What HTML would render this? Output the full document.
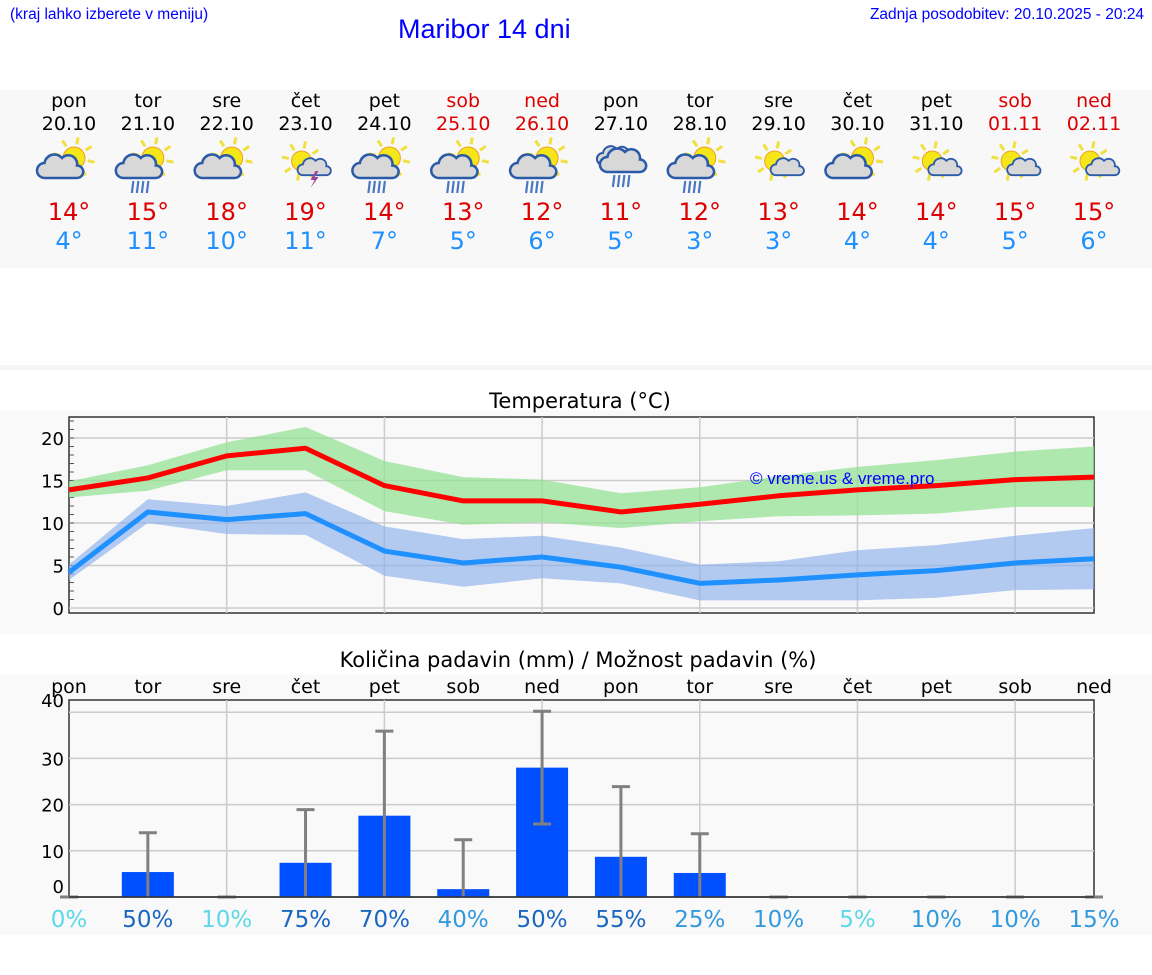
<!DOCTYPE html>
<html><head><meta charset="utf-8"><style>
body{margin:0;width:1152px;height:975px;background:#fff;font-family:"DejaVu Sans","Liberation Sans",sans-serif;overflow:hidden;position:relative}
.abs{position:absolute}
</style></head><body>
<div class="abs" style="left:10px;top:6px;font-size:15.5px;color:#00f;font-family:'Liberation Sans',sans-serif">(kraj lahko izberete v meniju)</div>
<div class="abs" style="left:398px;top:14px;font-size:27px;color:#00f;font-family:'Liberation Sans',sans-serif">Maribor 14 dni</div>
<div class="abs" style="right:8px;top:6px;font-size:15.5px;color:#00f;font-family:'Liberation Sans',sans-serif">Zadnja posodobitev: 20.10.2025 - 20:24</div>
<div class="abs" style="left:0;top:90px;width:1152px;height:178px;background:#f8f8f8"></div>
<div class="abs" style="left:0;top:365px;width:1152px;height:5px;background:#f6f6f6"></div>
<div class="abs" style="left:0;top:410px;width:1152px;height:224px;background:#f9f9f9"></div>
<div class="abs" style="left:0;top:675px;width:1152px;height:260px;background:#f9f9f9"></div>
<svg class="abs" style="left:0;top:0" width="1152" height="975" id="svg" font-family="DejaVu Sans, Liberation Sans, sans-serif"></svg>
<script>
const days=["pon","tor","sre","čet","pet","sob","ned","pon","tor","sre","čet","pet","sob","ned"];
const dates=["20.10","21.10","22.10","23.10","24.10","25.10","26.10","27.10","28.10","29.10","30.10","31.10","01.11","02.11"];
const icons=["sc","scr","sc","st","scr","scr","scr","cr","scr","sc2","sc","sc2","sc2","sc2"];
const tmax=[14,15,18,19,14,13,12,11,12,13,14,14,15,15];
const tmin=[4,11,10,11,7,5,6,5,3,3,4,4,5,6];
const maxLine=[13.9,15.3,17.9,18.8,14.4,12.6,12.6,11.3,12.2,13.2,13.9,14.4,15.1,15.4];
const maxHi=[14.9,16.8,19.5,21.3,17.3,15.4,15.1,13.5,14.2,15.5,16.6,17.4,18.4,19];
const maxLo=[13,13.8,16.2,16.2,11.4,9.8,10.1,9.4,10.2,10.8,10.9,11.1,11.9,11.9];
const minLine=[4.2,11.3,10.4,11.1,6.7,5.3,6,4.8,2.9,3.3,3.9,4.4,5.3,5.8];
const minHi=[5.1,12.8,12,13.6,9.6,8.1,8.5,7.1,5.1,5.5,6.8,7.4,8.5,9.4];
const minLo=[3.3,10,8.7,8.6,3.8,2.5,3.5,2.9,0.9,0.9,0.9,1.2,2.1,2.2];
const tempTicks=[0,5,10,15,20];
const precip=[0,5.4,0,7.4,17.6,1.7,28,8.7,5.2,0,0,0,0,0];
const errHi=[0,13.9,0,18.9,35.9,12.4,40.2,23.9,13.7,0,0,0,0,0];
const errLo=[0,0,0,0,0,0,15.8,0,0,0,0,0,0,0];
const prob=[0,50,10,75,70,40,50,55,25,10,5,10,10,15];
const probCol=["#5dd8e8","#1a66c0","#5dd8e8","#1a66c0","#1a66c0","#3399dd","#1a66c0","#1a66c0","#3399dd","#3399dd","#5dd8e8","#3399dd","#3399dd","#3399dd"];
const precipTicks=[10,20,30,40];

const S=document.getElementById('svg');const NS="http://www.w3.org/2000/svg";
function el(t,a,p){const e=document.createElementNS(NS,t);for(const k in a)e.setAttribute(k,a[k]);(p||S).appendChild(e);return e;}
const X0=69,X1=1094,xs=i=>X0+i*(X1-X0)/13;
const weekend=i=>(i==5||i==6||i==12||i==13);
days.forEach((d,i)=>{
 const c=weekend(i)?"#d00":"#000";
 let t=el('text',{x:xs(i),y:107,'text-anchor':'middle','font-size':19,fill:c});t.textContent=d;
 
 t=el('text',{x:xs(i),y:130,'text-anchor':'middle','font-size':19,fill:c});t.textContent=dates[i];
 
 t=el('text',{x:xs(i),y:220,'text-anchor':'middle','font-size':24,fill:"#d00"});t.textContent=tmax[i]+"°";
 
 t=el('text',{x:xs(i),y:249,'text-anchor':'middle','font-size':24,fill:"#1e90ff"});t.textContent=tmin[i]+"°";
 
 const g=el('g',{transform:`translate(${xs(i)},165)`});
 
 const k=icons[i];
 const sun=(cx,cy,r)=>{for(let a=0;a<8;a++){const an=a*Math.PI/4+0.2;el('line',{x1:cx+Math.cos(an)*(r+3),y1:cy+Math.sin(an)*(r+3),x2:cx+Math.cos(an)*(r+10),y2:cy+Math.sin(an)*(r+10),stroke:'#f0e040','stroke-width':3},g);}el('circle',{cx,cy,r,fill:'#f5e61a',stroke:'#f0a020','stroke-width':1},g);};
 const cloud=(cx,cy,s)=>{const gg=el('g',{transform:`translate(${cx},${cy}) scale(${s})`},g);el('path',{d:'M-14,8 a6,6 0 0 1 0,-12 a8,8 0 0 1 14,-4 a7,7 0 0 1 12,6 a5,5 0 0 1 0,10 z',fill:'#d8d8d8',stroke:'#2a5aa8','stroke-width':2},gg);};
 const rain=(cx,cy)=>{for(let j=0;j<4;j++)el('line',{x1:cx-9+j*5+1.5,y1:cy,x2:cx-9+j*5,y2:cy+12,stroke:'#4a78c0','stroke-width':2.2},g);};
 if(k=="cr"){cloud(-4,-8,1.0);cloud(4,-3,1.25);rain(1,10);}
 else if(k=="st"){sun(-4,-4,10);cloud(10,3,0.9);el('path',{d:'M10,6 l-5,9 h4 l-4,8 l8,-11 h-4 l4,-6z',fill:'#a040a0'},g);}
 else if(k=="sc2"){sun(-4,-4,10);cloud(10,3,0.9);}
 else{sun(5,-7,11);cloud(-7,3,1.25);if(k=="scr")rain(-7,16);}
});
const TY=v=>608-v*8.5;
let t=el('text',{x:580,y:408,'text-anchor':'middle','font-size':21,fill:'#000'});t.textContent="Temperatura (°C)";

el('rect',{x:X0,y:417,width:X1-X0,height:196,fill:'#f9f9f9',stroke:'#333','stroke-width':1.5});
tempTicks.forEach(v=>{el('line',{x1:X0,x2:X1,y1:TY(v),y2:TY(v),stroke:'#ccc','stroke-width':1.5});
 const l=el('text',{x:64,y:TY(v)+7,'text-anchor':'end','font-size':18,fill:'#000'});l.textContent=v;
 });
for(let v=1;v<=22;v++)el('line',{x1:X0,x2:X0+5,y1:TY(v),y2:TY(v),stroke:'#555','stroke-width':1});
for(let i=2;i<14;i+=2)el('line',{x1:xs(i),x2:xs(i),y1:417,y2:613,stroke:'#ccc','stroke-width':1.5});
function band(hi,lo,col,name){const p=hi.map((v,i)=>`${xs(i)},${TY(v)}`).concat(lo.map((v,i)=>`${xs(i)},${TY(v)}`).reverse());
 const e=el('polygon',{points:p.join(' '),fill:col});}
function line(d,col,name){const e=el('polyline',{points:d.map((v,i)=>`${xs(i)},${TY(v)}`).join(' '),fill:'none',stroke:col,'stroke-width':5,'stroke-linejoin':'round'});}
band(maxHi,maxLo,'rgba(150,225,150,0.75)','max-temp-range');
band(minHi,minLo,'rgba(140,175,235,0.65)','min-temp-range');
line(maxLine,'#ff0000','max-temp-line');line(minLine,'#1e90ff','min-temp-line');
t=el('text',{x:750,y:484,'font-size':17,fill:'#00f','font-family':'Liberation Sans, sans-serif'});t.textContent="© vreme.us & vreme.pro";

const PY=v=>897-v*4.62;
t=el('text',{x:578,y:667,'text-anchor':'middle','font-size':21,fill:'#000'});t.textContent="Količina padavin (mm) / Možnost padavin (%)";

el('rect',{x:X0,y:700,width:X1-X0,height:197,fill:'#f9f9f9',stroke:'#333','stroke-width':1.5});
precipTicks.forEach(v=>el('line',{x1:X0,x2:X1,y1:PY(v),y2:PY(v),stroke:'#ccc','stroke-width':1.5}));
for(let i=2;i<14;i+=2)el('line',{x1:xs(i),x2:xs(i),y1:700,y2:897,stroke:'#ccc','stroke-width':1.5});
[[40,700],[30,PY(30)],[20,PY(20)],[10,PY(10)],[0,886]].forEach(([v,y])=>{const l=el('text',{x:64,y:y+7,'text-anchor':'end','font-size':18,fill:'#000'});l.textContent=v;
 });
days.forEach((d,i)=>{let l=el('text',{x:xs(i),y:693,'text-anchor':'middle','font-size':19,fill:'#000'});l.textContent=d;
 
 if(precip[i]>0){const b=el('rect',{x:xs(i)-26,y:PY(precip[i]),width:52,height:PY(0)-PY(precip[i]),fill:'#0050ff'});
  }
 const g=el('g',{stroke:'#808080','stroke-width':3});
 el('line',{x1:xs(i),x2:xs(i),y1:PY(errLo[i]),y2:PY(errHi[i])},g);
 el('line',{x1:xs(i)-9,x2:xs(i)+9,y1:PY(errHi[i]),y2:PY(errHi[i])},g);
 if(errLo[i]>0)el('line',{x1:xs(i)-9,x2:xs(i)+9,y1:PY(errLo[i]),y2:PY(errLo[i])},g);
 l=el('text',{x:xs(i),y:927,'text-anchor':'middle','font-size':23,fill:probCol[i]});l.textContent=prob[i]+"%";
 });
el('line',{x1:X0,x2:X1,y1:897,y2:897,stroke:'#333','stroke-width':1.5});
</script>
</body></html>
